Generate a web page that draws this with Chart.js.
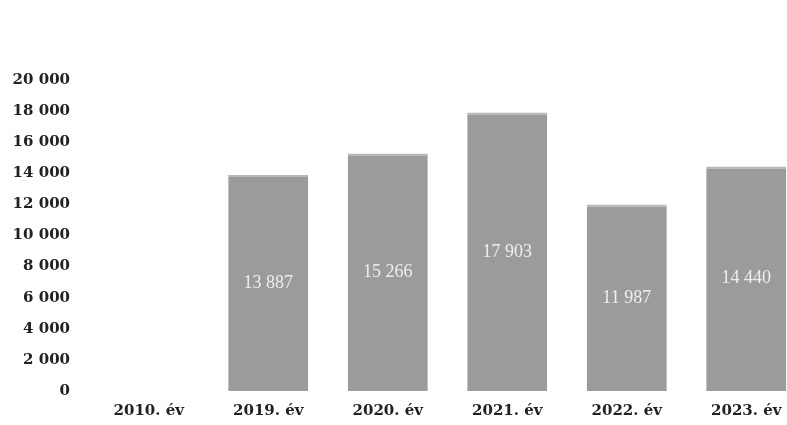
<!DOCTYPE html>
<html>
<head>
<meta charset="utf-8">
<script src="https://cdn.jsdelivr.net/npm/chart.js@4.4.1/dist/chart.umd.min.js"></script>
<style>
  html, body { margin: 0; padding: 0; background: #fff; overflow: hidden; }
  #box { position: relative; width: 810px; height: 425px; }
</style>
</head>
<body>
<div id="box"><canvas id="yearBox"></canvas></div>
<script>
// adatok
var categories = ['2010. év', '2019. év', '2020. év', '2021. év', '2022. év', '2023. év'];
var values = [0, 13887, 15266, 17903, 11987, 14440];
var yTicks = [0, 2000, 4000, 6000, 8000, 10000, 12000, 14000, 16000, 18000, 20000];

function fmt(n) {
	return String(n).replace(/\B(?=(\d{3})+(?!\d))/g, ' ');
}

// szam a oszlop kozepere
var barLabels = {
	id: 'barLabels',
	afterDatasetsDraw: function(chart) {
		var c = chart.ctx;
		var meta = chart.getDatasetMeta(0);
		c.save();
		c.font = '18px "Liberation Serif", serif';
		c.fillStyle = '#eeeeee';
		c.textAlign = 'center';
		c.textBaseline = 'middle';
		meta.data.forEach(function(bar, i) {
			if (!values[i]) return;
			c.fillText(fmt(values[i]), bar.x, (bar.y + bar.base) / 2);
		});
		c.restore();
	}
};

function drawChart(ctx, type, labels, data) {
	return new Chart(ctx, {
		type: type,
		data: {
			labels: labels,
			datasets: [{
				data: data,
				backgroundColor: '#9b9b9b',
				borderColor: '#b8b8b8',
				borderWidth: {top: 2, left: 0, right: 0, bottom: 0},
				borderSkipped: 'bottom',
				categoryPercentage: 0.67,
				barPercentage: 1
			}]
		},
		options: {
			responsive: true,
			maintainAspectRatio: false,
			animation: false,
			layout: {padding: {top: 80, right: 4, bottom: 0, left: 0}},
			plugins: {legend: {display: false}, tooltip: {enabled: false}},
			scales: {
				x: {
					grid: {display: false},
					border: {display: false},
					ticks: {
						color: '#222222',
						padding: 3,
						font: {family: '"DejaVu Serif", serif', size: 15, weight: 'bold'}
					},
					afterFit: function(s) { s.height = 34; }
				},
				y: {
					min: 0,
					max: 20000,
					grid: {display: false},
					border: {display: false},
					afterBuildTicks: function(s) {
						s.ticks = yTicks.map(function(v) { return {value: v}; });
					},
					ticks: {
						color: '#222222',
						padding: 11,
						font: {family: '"DejaVu Serif", serif', size: 15, weight: 'bold'},
						callback: function(v) { return fmt(v); }
					},
					afterFit: function(s) { s.width = 89; }
				}
			}
		},
		plugins: [barLabels]
	});
}

drawChart(document.getElementById('yearBox'), 'bar', categories, values);
</script>
</body>
</html>
